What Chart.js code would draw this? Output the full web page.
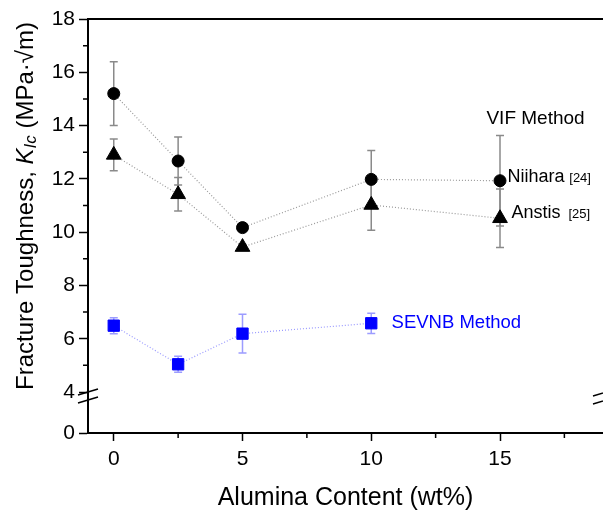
<!DOCTYPE html>
<html lang="en">
<head>
<meta charset="UTF-8">
<title>Fracture Toughness</title>
<script src="https://cdn.jsdelivr.net/npm/chart.js"></script>
<style>
  html, body { margin: 0; padding: 0; background: #fff; }
</style>
</head>
<body>
<canvas id="grafico" width="603" height="514"></canvas>
<script>
// dados
const alumina = [0, 2.5, 5, 10, 15];
const aluminaSevnb = [0, 2.5, 5, 10];
const niihara = [15.2, 12.67, 10.17, 11.98, 11.93];
const niiharaErro = [1.2, 0.9, 0.15, 1.08, 1.7];
const anstis = [12.9, 11.42, 9.44, 11.02, 10.52];
const anstisErro = [0.6, 0.63, 0.1, 0.95, 1.1];
const sevnb = [6.49, 5.04, 6.19, 6.58];
const sevnbErro = [0.3, 0.3, 0.73, 0.38];
const xTicks = [0, 5, 10, 15];
const xMinor = [2.5, 7.5, 12.5, 17.5];
const yMinor = [5, 7, 9, 11, 13, 15, 17];

const fonte = "'Liberation Sans', Arial, sans-serif";
Chart.defaults.font.family = fonte;
Chart.defaults.color = '#000';

function pontos(xs, ys) {
    return xs.map((x, i) => ({ x: x, y: ys[i] }));
}

// barras de erro (desenhadas antes dos marcadores)
const barrasErro = {
    id: 'barrasErro',
    beforeDatasetsDraw(chart) {
        const ctx = chart.ctx;
        const y = chart.scales.y;
        chart.data.datasets.forEach((ds, i) => {
            const meta = chart.getDatasetMeta(i);
            ctx.save();
            ctx.strokeStyle = ds.corErro;
            ctx.lineWidth = 1.5;
            meta.data.forEach((p, j) => {
                const v = ds.data[j].y;
                const e = ds.erros[j];
                const yTop = y.getPixelForValue(v + e);
                const yBot = y.getPixelForValue(v - e);
                ctx.beginPath();
                ctx.moveTo(p.x, yTop); ctx.lineTo(p.x, yBot);
                ctx.moveTo(p.x - 4, yTop); ctx.lineTo(p.x + 4, yTop);
                ctx.moveTo(p.x - 4, yBot); ctx.lineTo(p.x + 4, yBot);
                ctx.stroke();
            });
            ctx.restore();
        });
    }
};

// ticks menores, moldura de cima, quebra do eixo, textos
const extras = {
    id: 'extras',
    afterDraw(chart) {
        const ctx = chart.ctx;
        const x = chart.scales.x;
        const y = chart.scales.y;
        const area = chart.chartArea;
        ctx.save();
        ctx.strokeStyle = '#000';
        ctx.lineWidth = 1.5;
        ctx.beginPath();
        yMinor.forEach(v => {
            const py = y.getPixelForValue(v);
            ctx.moveTo(area.left - 5, py); ctx.lineTo(area.left, py);
        });
        xMinor.forEach(v => {
            const px = x.getPixelForValue(v);
            ctx.moveTo(px, area.bottom); ctx.lineTo(px, area.bottom + 5);
        });
        ctx.stroke();

        // linha de cima
        ctx.lineWidth = 2;
        ctx.beginPath();
        ctx.moveTo(area.left - 1, area.top);
        ctx.lineTo(area.right, area.top);
        ctx.stroke();

        // quebra
        const yq = y.bottom;
        ctx.lineWidth = 1.5;
        ctx.beginPath();
        ctx.moveTo(area.left - 10, yq + 3); ctx.lineTo(area.left + 10, yq - 3);
        ctx.moveTo(area.left - 10, yq + 11); ctx.lineTo(area.left + 10, yq + 5);
        ctx.moveTo(area.right - 10, yq + 4); ctx.lineTo(area.right + 10, yq - 2);
        ctx.moveTo(area.right - 10, yq + 12); ctx.lineTo(area.right + 10, yq + 6);
        ctx.stroke();

        // textos dentro do grafico
        const textos = [
            { t: 'VIF Method', x: 16.38, y: 14.25, s: 19, c: '#000', a: 'center' },
            { t: 'Niihara', x: 15.29, y: 12.07, s: 18, c: '#000', a: 'left' },
            { t: '[24]', x: 17.69, y: 12.03, s: 13, c: '#000', a: 'left' },
            { t: 'Anstis', x: 15.45, y: 10.72, s: 18, c: '#000', a: 'left' },
            { t: '[25]', x: 17.66, y: 10.68, s: 13, c: '#000', a: 'left' },
            { t: 'SEVNB Method', x: 10.79, y: 6.59, s: 18.5, c: '#0000ff', a: 'left' }
        ];
        ctx.textBaseline = 'middle';
        textos.forEach(o => {
            ctx.font = o.s + 'px ' + fonte;
            ctx.fillStyle = o.c;
            ctx.textAlign = o.a;
            ctx.fillText(o.t, x.getPixelForValue(o.x), y.getPixelForValue(o.y));
        });

        // titulo do eixo x
        ctx.fillStyle = '#000';
        ctx.textAlign = 'center';
        ctx.font = '25px ' + fonte;
        ctx.fillText('Alumina Content (wt%)', (area.left + area.right) / 2, 498);

        // titulo do eixo y (com K italico e subscrito)
        const partes = [
            { t: 'Fracture Toughness, ', f: '24px ' + fonte, d: 0 },
            { t: 'K', f: 'italic 24px ' + fonte, d: 0 },
            { t: 'Ic', f: 'italic 17px ' + fonte, d: 5 },
            { t: ' (MPa\u00B7\u221Am)', f: '24px ' + fonte, d: 0 }
        ];
        let total = 0;
        partes.forEach(p => { ctx.font = p.f; p.w = ctx.measureText(p.t).width; total += p.w; });
        ctx.translate(26, 206);
        ctx.rotate(-Math.PI / 2);
        ctx.textAlign = 'left';
        let pos = -total / 2;
        partes.forEach(p => {
            ctx.font = p.f;
            ctx.fillText(p.t, pos, p.d);
            pos += p.w;
        });
        ctx.restore();
    }
};

const gridEixo = { drawOnChartArea: false, drawTicks: true, tickLength: 9, tickColor: '#000', tickWidth: 1.5 };

new Chart(document.getElementById('grafico'), {
    type: 'line',
    data: {
        datasets: [
            {
                label: 'SEVNB',
                data: pontos(aluminaSevnb, sevnb),
                erros: sevnbErro,
                corErro: '#9c9cff',
                borderColor: '#9999ff',
                borderWidth: 1.2,
                borderDash: [1, 2],
                pointStyle: 'rect',
                pointRadius: 8,
                pointBackgroundColor: '#0000ff',
                pointBorderColor: '#0000ff',
                pointBorderWidth: 1
            },
            {
                label: 'Anstis',
                data: pontos(alumina, anstis),
                erros: anstisErro,
                corErro: '#8a8a8a',
                borderColor: '#999',
                borderWidth: 1.2,
                borderDash: [1, 2],
                pointStyle: 'triangle',
                pointRadius: 8.5,
                pointBackgroundColor: '#000',
                pointBorderColor: '#000',
                pointBorderWidth: 1
            },
            {
                label: 'Niihara',
                data: pontos(alumina, niihara),
                erros: niiharaErro,
                corErro: '#8a8a8a',
                borderColor: '#999',
                borderWidth: 1.2,
                borderDash: [1, 2],
                pointStyle: 'circle',
                pointRadius: 6,
                pointBackgroundColor: '#000',
                pointBorderColor: '#000',
                pointBorderWidth: 1
            }
        ]
    },
    options: {
        responsive: false,
        animation: false,
        events: [],
        layout: { autoPadding: false, padding: { top: 19, right: 0, left: 0, bottom: 0 } },
        plugins: { legend: { display: false }, tooltip: { enabled: false } },
        scales: {
            x: {
                type: 'linear',
                min: -1,
                max: 19,
                afterBuildTicks: s => { s.ticks = xTicks.map(v => ({ value: v })); },
                afterFit: s => { s.height = 81; },
                ticks: { font: { size: 21 }, padding: 6, maxRotation: 0 },
                grid: Object.assign({}, gridEixo, { tickLength: 8 }),
                border: { color: '#000', width: 2 }
            },
            y: {
                type: 'linear',
                position: 'left',
                stack: 'eixoY',
                stackWeight: 373,
                weight: 1,
                min: 4,
                max: 18,
                afterFit: s => { s.width = 88; },
                ticks: { stepSize: 2, font: { size: 21 }, padding: 4 },
                grid: gridEixo,
                border: { color: '#000', width: 2 }
            },
            yBaixo: {
                type: 'linear',
                position: 'left',
                stack: 'eixoY',
                stackWeight: 41,
                weight: 0,
                min: 0,
                max: 1,
                afterBuildTicks: s => { s.ticks = [{ value: 0 }]; },
                afterFit: s => { s.width = 88; },
                ticks: { font: { size: 21 }, padding: 4 },
                grid: gridEixo,
                border: { color: '#000', width: 2 }
            }
        }
    },
    plugins: [barrasErro, extras]
});
</script>
</body>
</html>
